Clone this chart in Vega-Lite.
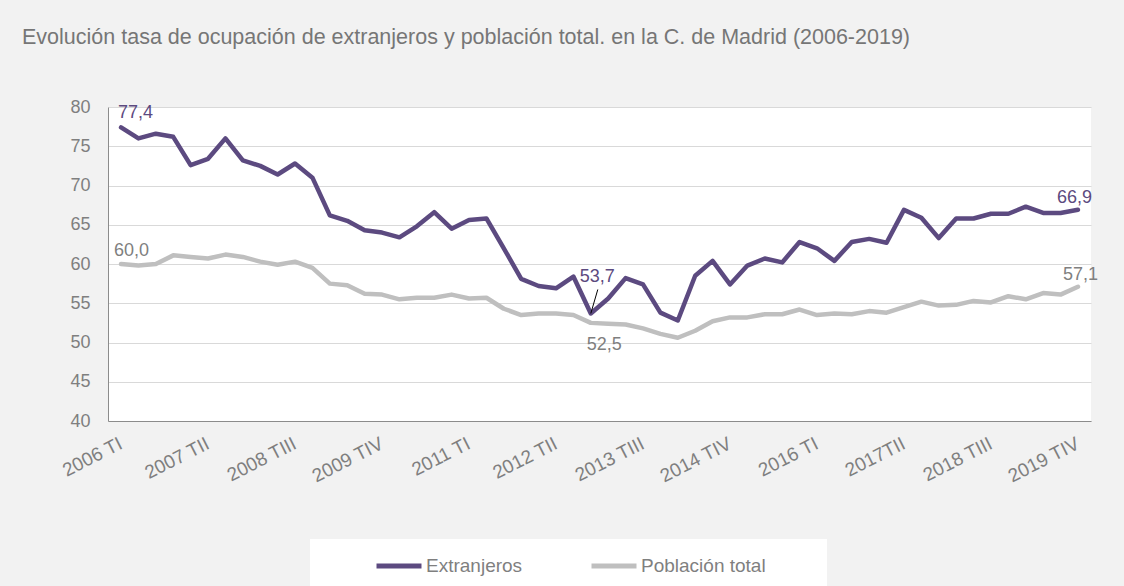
{
  "$schema": "https://vega.github.io/schema/vega-lite/v6.json",
  "width": 983,
  "height": 314,
  "autosize": {"type": "none"},
  "padding": {"left": 108, "top": 107, "right": 33, "bottom": 165},
  "background": "#f2f2f2",
  "title": {
    "text": "Evolución tasa de ocupación de extranjeros y población total. en la C. de Madrid (2006-2019)",
    "anchor": "start",
    "frame": "group",
    "dx": -86,
    "offset": 50,
    "font": "Liberation Sans",
    "fontSize": 21.5,
    "fontWeight": "normal",
    "color": "#767676"
  },
  "data": {
    "values": [
      {"q": "2006 TI", "Extranjeros": 77.4, "Población total": 60.0},
      {"q": "2006 TII", "Extranjeros": 76.0, "Población total": 59.8},
      {"q": "2006 TIII", "Extranjeros": 76.6, "Población total": 60.0},
      {"q": "2006 TIV", "Extranjeros": 76.2, "Población total": 61.1},
      {"q": "2007 TI", "Extranjeros": 72.6, "Población total": 60.9},
      {"q": "2007 TII", "Extranjeros": 73.4, "Población total": 60.7},
      {"q": "2007 TIII", "Extranjeros": 76.0, "Población total": 61.2},
      {"q": "2007 TIV", "Extranjeros": 73.2, "Población total": 60.9},
      {"q": "2008 TI", "Extranjeros": 72.5, "Población total": 60.3},
      {"q": "2008 TII", "Extranjeros": 71.4, "Población total": 59.9},
      {"q": "2008 TIII", "Extranjeros": 72.8, "Población total": 60.3},
      {"q": "2008 TIV", "Extranjeros": 71.0, "Población total": 59.5},
      {"q": "2009 TI", "Extranjeros": 66.2, "Población total": 57.5},
      {"q": "2009 TII", "Extranjeros": 65.5, "Población total": 57.3},
      {"q": "2009 TIII", "Extranjeros": 64.3, "Población total": 56.2},
      {"q": "2009 TIV", "Extranjeros": 64.0, "Población total": 56.1},
      {"q": "2010 TI", "Extranjeros": 63.4, "Población total": 55.5},
      {"q": "2010 TII", "Extranjeros": 64.8, "Población total": 55.7},
      {"q": "2010 TIII", "Extranjeros": 66.6, "Población total": 55.7},
      {"q": "2010 TIV", "Extranjeros": 64.5, "Población total": 56.1},
      {"q": "2011 TI", "Extranjeros": 65.6, "Población total": 55.6},
      {"q": "2011 TII", "Extranjeros": 65.8, "Población total": 55.7},
      {"q": "2011 TIII", "Extranjeros": 62.0, "Población total": 54.3},
      {"q": "2011 TIV", "Extranjeros": 58.1, "Población total": 53.5},
      {"q": "2012 TI", "Extranjeros": 57.2, "Población total": 53.7},
      {"q": "2012 TII", "Extranjeros": 56.9, "Población total": 53.7},
      {"q": "2012 TIII", "Extranjeros": 58.4, "Población total": 53.5},
      {"q": "2012 TIV", "Extranjeros": 53.7, "Población total": 52.5},
      {"q": "2013 TI", "Extranjeros": 55.6, "Población total": 52.4},
      {"q": "2013 TII", "Extranjeros": 58.2, "Población total": 52.3},
      {"q": "2013 TIII", "Extranjeros": 57.4, "Población total": 51.8},
      {"q": "2013 TIV", "Extranjeros": 53.8, "Población total": 51.1},
      {"q": "2014 TI", "Extranjeros": 52.8, "Población total": 50.6},
      {"q": "2014 TII", "Extranjeros": 58.5, "Población total": 51.5},
      {"q": "2014 TIII", "Extranjeros": 60.4, "Población total": 52.7},
      {"q": "2014 TIV", "Extranjeros": 57.4, "Población total": 53.2},
      {"q": "2015 TI", "Extranjeros": 59.8, "Población total": 53.2},
      {"q": "2015 TII", "Extranjeros": 60.7, "Población total": 53.6},
      {"q": "2015 TIII", "Extranjeros": 60.2, "Población total": 53.6},
      {"q": "2015 TIV", "Extranjeros": 62.8, "Población total": 54.2},
      {"q": "2016 TI", "Extranjeros": 62.0, "Población total": 53.5},
      {"q": "2016 TII", "Extranjeros": 60.4, "Población total": 53.7},
      {"q": "2016 TIII", "Extranjeros": 62.8, "Población total": 53.6},
      {"q": "2016 TIV", "Extranjeros": 63.2, "Población total": 54.0},
      {"q": "2017 TI", "Extranjeros": 62.7, "Población total": 53.8},
      {"q": "2017TII", "Extranjeros": 66.9, "Población total": 54.5},
      {"q": "2017 TIII", "Extranjeros": 65.9, "Población total": 55.2},
      {"q": "2017 TIV", "Extranjeros": 63.3, "Población total": 54.7},
      {"q": "2018 TI", "Extranjeros": 65.8, "Población total": 54.8},
      {"q": "2018 TII", "Extranjeros": 65.8, "Población total": 55.3},
      {"q": "2018 TIII", "Extranjeros": 66.4, "Población total": 55.1},
      {"q": "2018 TIV", "Extranjeros": 66.4, "Población total": 55.9},
      {"q": "2019 TI", "Extranjeros": 67.3, "Población total": 55.5},
      {"q": "2019 TII", "Extranjeros": 66.5, "Población total": 56.3},
      {"q": "2019 TIII", "Extranjeros": 66.5, "Población total": 56.1},
      {"q": "2019 TIV", "Extranjeros": 66.9, "Población total": 57.1}
    ]
  },
  "transform": [{"fold": ["Extranjeros", "Población total"], "as": ["serie", "valor"]}],
  "encoding": {
    "x": {
      "field": "q",
      "type": "ordinal",
      "sort": null,
      "scale": {"padding": 0.5},
      "axis": {
        "title": null,
        "values": ["2006 TI", "2007 TII", "2008 TIII", "2009 TIV", "2011 TI", "2012 TII", "2013 TIII", "2014 TIV", "2016 TI", "2017TII", "2018 TIII", "2019 TIV"],
        "labelAngle": -27,
        "labelAlign": "right",
        "labelBaseline": "middle",
        "labelPadding": 21,
        "labelFont": "Liberation Sans",
        "labelFontSize": 19,
        "labelColor": "#7f7f7f",
        "ticks": false,
        "grid": false,
        "domain": true,
        "domainColor": "#8c8c8c",
        "domainWidth": 1
      }
    },
    "y": {
      "field": "valor",
      "type": "quantitative",
      "scale": {"domain": [40, 80], "nice": false, "zero": false},
      "axis": {
        "title": null,
        "values": [40, 45, 50, 55, 60, 65, 70, 75, 80],
        "labelFont": "Liberation Sans",
        "labelFontSize": 18,
        "labelColor": "#7f7f7f",
        "labelPadding": 18,
        "ticks": false,
        "domain": true,
        "domainColor": "#8c8c8c",
        "grid": true,
        "gridColor": "#d9d9d9",
        "gridWidth": 1
      }
    }
  },
  "layer": [
    {
      "mark": {"type": "line", "strokeWidth": 4.5, "strokeJoin": "round", "strokeCap": "round"},
      "encoding": {
        "color": {
          "field": "serie",
          "type": "nominal",
          "scale": {"domain": ["Extranjeros", "Población total"], "range": ["#5c4a80", "#bfbfbf"]},
          "legend": {
            "title": "\u200b\u00a0\u00a0\u00a0\u00a0\u00a0\u00a0\u00a0\u00a0\u00a0\u00a0\u00a0\u200b",
            "titleOrient": "left",
            "titleFontSize": 20,
            "titlePadding": 0,
            "orient": "none",
            "legendX": 202,
            "legendY": 432,
            "direction": "horizontal",
            "fillColor": "white",
            "padding": 13,
            "symbolType": "M-2,0H2",
            "symbolSize": 506,
            "symbolStrokeWidth": 5,
            "labelOffset": 13,
            "columnPadding": 58,
            "labelFont": "Liberation Sans",
            "labelFontSize": 19,
            "labelColor": "#7f7f7f",
            "labelLimit": 400,
            "labelExpr": "datum.label == 'Población total' ? datum.label + '\u00a0\u00a0\u00a0\u00a0\u00a0\u00a0\u00a0\u00a0\u00a0\u200b' : datum.label"
          }
        }
      }
    },
    {
      "transform": [{"filter": "datum.q == '2012 TIV' && datum.serie == 'Extranjeros'"}],
      "mark": {"type": "rule", "color": "black", "strokeWidth": 1, "x2Offset": 7, "y2Offset": -24},
      "encoding": {"x2": {"field": "q"}, "y2": {"field": "valor"}}
    },
    {
      "transform": [{"filter": "datum.q == '2006 TI' && datum.serie == 'Extranjeros'"}],
      "mark": {"type": "text", "align": "left", "baseline": "alphabetic", "dx": -3, "dy": -9, "font": "Liberation Sans", "fontSize": 18, "color": "#5c4a80"},
      "encoding": {"text": {"field": "valor", "type": "quantitative", "format": ".1f"}}
    },
    {
      "transform": [{"filter": "datum.q == '2006 TI' && datum.serie == 'Población total'"}],
      "mark": {"type": "text", "align": "left", "baseline": "alphabetic", "dx": -7, "dy": -8, "font": "Liberation Sans", "fontSize": 18, "color": "#7f7f7f"},
      "encoding": {"text": {"field": "valor", "type": "quantitative", "format": ".1f"}}
    },
    {
      "transform": [{"filter": "datum.q == '2012 TIV' && datum.serie == 'Extranjeros'"}],
      "mark": {"type": "text", "align": "left", "baseline": "alphabetic", "dx": -11, "dy": -31, "font": "Liberation Sans", "fontSize": 18, "color": "#5c4a80"},
      "encoding": {"text": {"field": "valor", "type": "quantitative", "format": ".1f"}}
    },
    {
      "transform": [{"filter": "datum.q == '2012 TIV' && datum.serie == 'Población total'"}],
      "mark": {"type": "text", "align": "left", "baseline": "alphabetic", "dx": -4, "dy": 27, "font": "Liberation Sans", "fontSize": 18, "color": "#7f7f7f"},
      "encoding": {"text": {"field": "valor", "type": "quantitative", "format": ".1f"}}
    },
    {
      "transform": [{"filter": "datum.q == '2019 TIV' && datum.serie == 'Extranjeros'"}],
      "mark": {"type": "text", "align": "left", "baseline": "alphabetic", "dx": -21, "dy": -7, "font": "Liberation Sans", "fontSize": 18, "color": "#5c4a80"},
      "encoding": {"text": {"field": "valor", "type": "quantitative", "format": ".1f"}}
    },
    {
      "transform": [{"filter": "datum.q == '2019 TIV' && datum.serie == 'Población total'"}],
      "mark": {"type": "text", "align": "left", "baseline": "alphabetic", "dx": -15, "dy": -7, "font": "Liberation Sans", "fontSize": 18, "color": "#7f7f7f"},
      "encoding": {"text": {"field": "valor", "type": "quantitative", "format": ".1f"}}
    }
  ],
  "config": {
    "view": {"fill": "white", "stroke": null},
    "locale": {
      "number": {"decimal": ",", "thousands": ".", "grouping": [3], "currency": ["", " €"]}
    }
  }
}
